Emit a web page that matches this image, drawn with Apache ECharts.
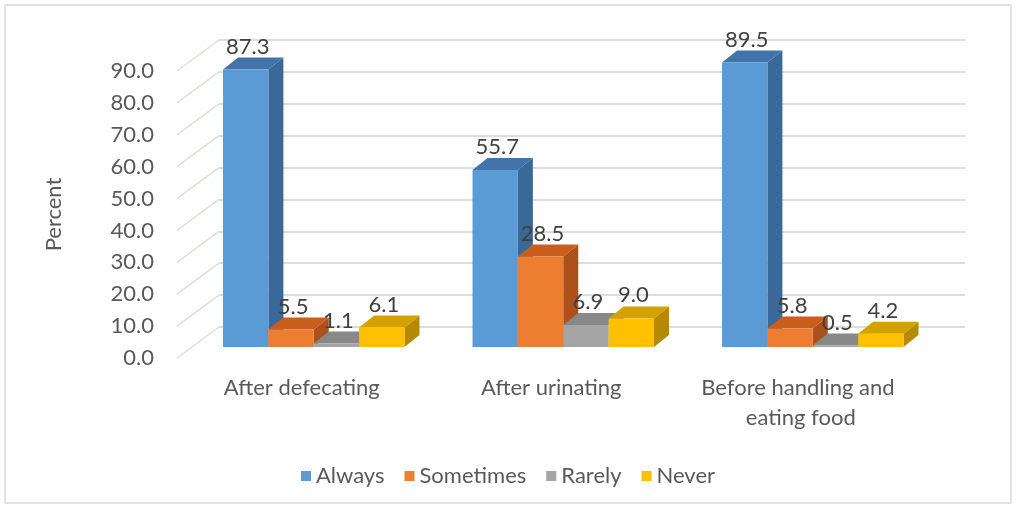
<!DOCTYPE html>
<html>
<head>
<meta charset="utf-8">
<script src="https://cdn.jsdelivr.net/npm/echarts@6/dist/echarts.min.js"></script>
<style>
  html, body { margin: 0; padding: 0; background: #ffffff; }
  #chart { width: 1016px; height: 509px; }
</style>
</head>
<body>
<div id="chart"></div>
<script>
// Hand-washing practice by occasion (percent of respondents)
const categories = ['After defecating', 'After urinating', 'Before handling and eating food'];
const seriesNames = ['Always', 'Sometimes', 'Rarely', 'Never'];
const always = [87.3, 55.7, 89.5];
const sometimes = [5.5, 28.5, 5.8];
const rarely = [1.1, 6.9, 0.5];
const never = [6.1, 9.0, 4.2];
const wallTicks = [0, 10, 20, 30, 40, 50, 60, 70, 80, 90];

const seriesValues = [always, sometimes, rarely, never];

// front / top / side shades of each 3D column
const palette = [
  { front: '#5B9BD5', top: '#4274AB', side: '#3A6898' },
  { front: '#ED7D31', top: '#C95E1E', side: '#AE5019' },
  { front: '#A5A5A5', top: '#888888', side: '#7B7B7B' },
  { front: '#FFC000', top: '#D3A100', side: '#B58A00' }
];

const FONT = 'Lato, "Open Sans", sans-serif';
const FS = 22;

// three planes of the 3D box: front edge (axis labels), bar plane, back wall
const frontGrid = { left: 177, top: 71, width: 748.5, height: 287 };
const barGrid = { left: 189, top: 61, width: 748.5, height: 286 };
const backGrid = { left: 219, top: 40, width: 746, height: 287 };

const DEPTH_X = 15, DEPTH_Y = -12;   // column depth

function columnRenderer(idx) {
  const c = palette[idx];
  return function (params, api) {
    const cat = api.value(0);
    const v = api.value(1);
    const base = api.coord([cat, 0]);
    const top = api.coord([cat, v]);
    const band = api.size([1, 0])[0];
    const w = band / 5.5;
    const x0 = base[0] - 2 * w + idx * w;
    const x1 = x0 + w;
    const yb = base[1];
    const yt = top[1];
    return {
      type: 'group',
      children: [
        { type: 'polygon', shape: { points: [[x1, yt], [x1 + DEPTH_X, yt + DEPTH_Y], [x1 + DEPTH_X, yb + DEPTH_Y], [x1, yb]] }, style: { fill: c.side } },
        { type: 'polygon', shape: { points: [[x0, yt], [x1, yt], [x1 + DEPTH_X, yt + DEPTH_Y], [x0 + DEPTH_X, yt + DEPTH_Y]] }, style: { fill: c.top } },
        { type: 'rect', shape: { x: x0, y: yt, width: w, height: yb - yt }, style: { fill: c.front } },
        { type: 'text', z2: 50, x: x0 + w / 2 + 2, y: yt - 23,
          style: { text: v.toFixed(1), fill: '#404040', font: FS + 'px ' + FONT, align: 'center', verticalAlign: 'middle' } }
      ]
    };
  };
}

// side-wall lines joining each back-wall gridline to the front edge
function wallRenderer(params, api) {
  const cs = params.coordSys;
  const p = api.coord([0, api.value(1)]);
  const fx = cs.x;
  const fy = p[1];
  const dx = backGrid.left - frontGrid.left;
  const dy = backGrid.top - frontGrid.top;
  return { type: 'line', shape: { x1: fx, y1: fy, x2: fx + dx, y2: fy + dy },
           style: { stroke: '#e2ddd9', lineWidth: 1.5 } };
}

const columnSeries = seriesNames.map((name, i) => ({
  name: name,
  type: 'custom',
  xAxisIndex: 1,
  yAxisIndex: 1,
  itemStyle: { color: palette[i].front },
  encode: { x: 0, y: 1 },
  data: seriesValues[i].map((v, k) => [k, v]),
  renderItem: columnRenderer(i),
  z: 3
}));

const chart = echarts.init(document.getElementById('chart'), null, { renderer: 'canvas' });
chart.setOption({
  animation: false,
  backgroundColor: '#ffffff',
  textStyle: { fontFamily: FONT },
  graphic: [{
    type: 'rect', z: -10, silent: true,
    shape: { x: 5, y: 5, width: 1006, height: 498 },
    style: { fill: 'none', stroke: '#d9d9d9', lineWidth: 1.5 }
  }],
  legend: {
    data: seriesNames,
    bottom: 17,
    left: 'center',
    icon: 'rect',
    itemWidth: 10,
    itemHeight: 10,
    itemGap: 20,
    textStyle: { color: '#595959', fontSize: FS, fontFamily: FONT }
  },
  grid: [
    Object.assign({}, frontGrid),
    Object.assign({}, barGrid),
    Object.assign({}, backGrid)
  ],
  xAxis: [
    { type: 'category', gridIndex: 0, data: categories,
      axisLine: { show: false }, axisTick: { show: false },
      axisLabel: { color: '#595959', fontSize: FS, fontFamily: FONT, margin: 15,
                   lineHeight: 30, width: 215, overflow: 'break', interval: 0 } },
    { type: 'category', gridIndex: 1, data: categories, show: false },
    { type: 'category', gridIndex: 2, data: categories, show: false }
  ],
  yAxis: [
    { type: 'value', gridIndex: 0, min: 0, max: 90, interval: 10,
      name: 'Percent', nameLocation: 'middle', nameGap: 112, nameRotate: 90,
      nameTextStyle: { color: '#595959', fontSize: FS, fontFamily: FONT },
      axisLine: { show: false }, axisTick: { show: false }, splitLine: { show: false },
      axisLabel: { color: '#595959', fontSize: FS, fontFamily: FONT, margin: 23,
                   formatter: v => v.toFixed(1) } },
    { type: 'value', gridIndex: 1, min: 0, max: 90, interval: 10, show: false, splitLine: { show: false } },
    { type: 'value', gridIndex: 2, min: 0, max: 90, interval: 10,
      axisLine: { show: false }, axisTick: { show: false }, axisLabel: { show: false },
      splitLine: { show: true, lineStyle: { color: '#dcdcdc', width: 2 } } }
  ],
  series: [
    {
      type: 'custom',
      xAxisIndex: 0,
      yAxisIndex: 0,
      silent: true,
      encode: { x: 0, y: 1 },
      data: wallTicks.map(v => [0, v]),
      renderItem: wallRenderer,
      z: 1
    }
  ].concat(columnSeries)
});
</script>
</body>
</html>
